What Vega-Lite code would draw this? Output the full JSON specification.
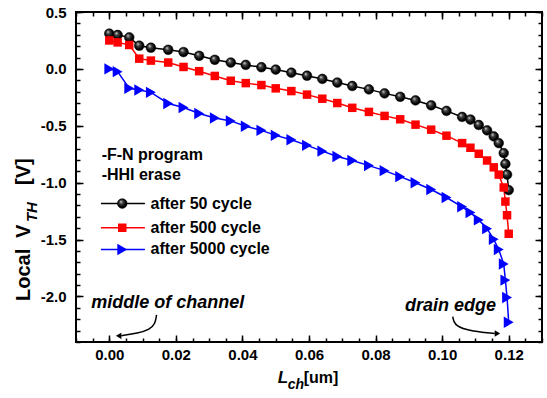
{
  "$schema": "https://vega.github.io/schema/vega-lite/v6.json",
  "width": 466,
  "height": 330,
  "autosize": {"type": "none"},
  "padding": {"left": 76, "top": 12, "right": 5, "bottom": 56},
  "background": "white",
  "config": {
    "view": {"stroke": "#000000", "strokeWidth": 2},
    "font": "Liberation Sans",
    "axis": {
      "labelFont": "Liberation Sans",
      "labelFontSize": 15,
      "labelFontWeight": "bold",
      "labelColor": "#000000",
      "tickColor": "#000000",
      "tickWidth": 1.5,
      "domain": false,
      "grid": false,
      "labelOverlap": false,
      "labelFlush": false,
      "labelBound": false
    }
  },
  "datasets": {
    "series": [
      {"s": "50", "role": "d", "L": 0, "V": 0.31},
      {"s": "50", "role": "d", "L": 0.0025, "V": 0.298},
      {"s": "50", "role": "d", "L": 0.006, "V": 0.277},
      {"s": "50", "role": "d", "L": 0.009, "V": 0.204},
      {"s": "50", "role": "d", "L": 0.0125, "V": 0.186},
      {"s": "50", "role": "d", "L": 0.0177, "V": 0.168},
      {"s": "50", "role": "d", "L": 0.0223, "V": 0.148},
      {"s": "50", "role": "d", "L": 0.027, "V": 0.115},
      {"s": "50", "role": "d", "L": 0.0317, "V": 0.08},
      {"s": "50", "role": "d", "L": 0.0365, "V": 0.056},
      {"s": "50", "role": "d", "L": 0.041, "V": 0.035},
      {"s": "50", "role": "d", "L": 0.0457, "V": 0.015},
      {"s": "50", "role": "d", "L": 0.05, "V": -0.006},
      {"s": "50", "role": "d", "L": 0.0547, "V": -0.033},
      {"s": "50", "role": "d", "L": 0.0594, "V": -0.06},
      {"s": "50", "role": "d", "L": 0.064, "V": -0.088},
      {"s": "50", "role": "d", "L": 0.0685, "V": -0.12},
      {"s": "50", "role": "d", "L": 0.073, "V": -0.15},
      {"s": "50", "role": "d", "L": 0.078, "V": -0.18},
      {"s": "50", "role": "d", "L": 0.0827, "V": -0.215},
      {"s": "50", "role": "d", "L": 0.0874, "V": -0.245},
      {"s": "50", "role": "d", "L": 0.092, "V": -0.277},
      {"s": "50", "role": "d", "L": 0.0967, "V": -0.32},
      {"s": "50", "role": "d", "L": 0.1013, "V": -0.369},
      {"s": "50", "role": "d", "L": 0.106, "V": -0.422},
      {"s": "50", "role": "d", "L": 0.1085, "V": -0.445},
      {"s": "50", "role": "d", "L": 0.111, "V": -0.493},
      {"s": "50", "role": "d", "L": 0.1135, "V": -0.54},
      {"s": "50", "role": "d", "L": 0.1155, "V": -0.593},
      {"s": "50", "role": "d", "L": 0.117, "V": -0.652},
      {"s": "50", "role": "d", "L": 0.1185, "V": -0.74},
      {"s": "50", "role": "d", "L": 0.119, "V": -0.835},
      {"s": "50", "role": "d", "L": 0.1195, "V": -0.929},
      {"s": "50", "role": "d", "L": 0.12, "V": -1.065},
      {"s": "500", "role": "d", "L": 0, "V": 0.25},
      {"s": "500", "role": "d", "L": 0.0025, "V": 0.233},
      {"s": "500", "role": "d", "L": 0.006, "V": 0.21},
      {"s": "500", "role": "d", "L": 0.009, "V": 0.09},
      {"s": "500", "role": "d", "L": 0.0125, "V": 0.073},
      {"s": "500", "role": "d", "L": 0.0177, "V": 0.056},
      {"s": "500", "role": "d", "L": 0.0223, "V": 0.017},
      {"s": "500", "role": "d", "L": 0.027, "V": -0.02},
      {"s": "500", "role": "d", "L": 0.0317, "V": -0.062},
      {"s": "500", "role": "d", "L": 0.0365, "V": -0.104},
      {"s": "500", "role": "d", "L": 0.041, "V": -0.125},
      {"s": "500", "role": "d", "L": 0.0457, "V": -0.142},
      {"s": "500", "role": "d", "L": 0.05, "V": -0.171},
      {"s": "500", "role": "d", "L": 0.0547, "V": -0.195},
      {"s": "500", "role": "d", "L": 0.0594, "V": -0.226},
      {"s": "500", "role": "d", "L": 0.064, "V": -0.262},
      {"s": "500", "role": "d", "L": 0.0685, "V": -0.3},
      {"s": "500", "role": "d", "L": 0.073, "V": -0.342},
      {"s": "500", "role": "d", "L": 0.078, "V": -0.378},
      {"s": "500", "role": "d", "L": 0.0827, "V": -0.413},
      {"s": "500", "role": "d", "L": 0.0874, "V": -0.443},
      {"s": "500", "role": "d", "L": 0.092, "V": -0.49},
      {"s": "500", "role": "d", "L": 0.0967, "V": -0.534},
      {"s": "500", "role": "d", "L": 0.1013, "V": -0.587},
      {"s": "500", "role": "d", "L": 0.106, "V": -0.652},
      {"s": "500", "role": "d", "L": 0.1085, "V": -0.693},
      {"s": "500", "role": "d", "L": 0.111, "V": -0.746},
      {"s": "500", "role": "d", "L": 0.1135, "V": -0.805},
      {"s": "500", "role": "d", "L": 0.1155, "V": -0.865},
      {"s": "500", "role": "d", "L": 0.117, "V": -0.929},
      {"s": "500", "role": "d", "L": 0.1185, "V": -1.042},
      {"s": "500", "role": "d", "L": 0.119, "V": -1.166},
      {"s": "500", "role": "d", "L": 0.1195, "V": -1.286},
      {"s": "500", "role": "d", "L": 0.12, "V": -1.449},
      {"s": "5000", "role": "d", "L": 0, "V": 0},
      {"s": "5000", "role": "d", "L": 0.0025, "V": -0.024},
      {"s": "5000", "role": "d", "L": 0.006, "V": -0.171},
      {"s": "5000", "role": "d", "L": 0.009, "V": -0.186},
      {"s": "5000", "role": "d", "L": 0.0125, "V": -0.206},
      {"s": "5000", "role": "d", "L": 0.0177, "V": -0.304},
      {"s": "5000", "role": "d", "L": 0.0223, "V": -0.339},
      {"s": "5000", "role": "d", "L": 0.027, "V": -0.392},
      {"s": "5000", "role": "d", "L": 0.0317, "V": -0.431},
      {"s": "5000", "role": "d", "L": 0.0365, "V": -0.457},
      {"s": "5000", "role": "d", "L": 0.041, "V": -0.504},
      {"s": "5000", "role": "d", "L": 0.0457, "V": -0.54},
      {"s": "5000", "role": "d", "L": 0.05, "V": -0.584},
      {"s": "5000", "role": "d", "L": 0.0547, "V": -0.622},
      {"s": "5000", "role": "d", "L": 0.0594, "V": -0.672},
      {"s": "5000", "role": "d", "L": 0.064, "V": -0.723},
      {"s": "5000", "role": "d", "L": 0.0685, "V": -0.77},
      {"s": "5000", "role": "d", "L": 0.073, "V": -0.805},
      {"s": "5000", "role": "d", "L": 0.078, "V": -0.85},
      {"s": "5000", "role": "d", "L": 0.0827, "V": -0.894},
      {"s": "5000", "role": "d", "L": 0.0874, "V": -0.947},
      {"s": "5000", "role": "d", "L": 0.092, "V": -1.0},
      {"s": "5000", "role": "d", "L": 0.0967, "V": -1.06},
      {"s": "5000", "role": "d", "L": 0.1013, "V": -1.13},
      {"s": "5000", "role": "d", "L": 0.106, "V": -1.212},
      {"s": "5000", "role": "d", "L": 0.1085, "V": -1.263},
      {"s": "5000", "role": "d", "L": 0.111, "V": -1.327},
      {"s": "5000", "role": "d", "L": 0.1135, "V": -1.404},
      {"s": "5000", "role": "d", "L": 0.1155, "V": -1.498},
      {"s": "5000", "role": "d", "L": 0.117, "V": -1.587},
      {"s": "5000", "role": "d", "L": 0.1185, "V": -1.714},
      {"s": "5000", "role": "d", "L": 0.119, "V": -1.856},
      {"s": "5000", "role": "d", "L": 0.1195, "V": -2.009},
      {"s": "5000", "role": "d", "L": 0.12, "V": -2.227},
      {"s": "50", "role": "legend", "L": 0.0039, "V": -1.183},
      {"s": "500", "role": "legend", "L": 0.0039, "V": -1.396},
      {"s": "5000", "role": "legend", "L": 0.0039, "V": -1.587}
    ],
    "legendLines": [
      {"s": "50", "L": -0.0025, "L2": 0.0107, "V": -1.183},
      {"s": "500", "L": -0.0025, "L2": 0.0107, "V": -1.396},
      {"s": "5000", "L": -0.0025, "L2": 0.0107, "V": -1.587}
    ],
    "arrows": [
      {"a": "m", "i": 0, "L": 0.0142, "V": -2.162},
      {"a": "m", "i": 1, "L": 0.0138, "V": -2.24},
      {"a": "m", "i": 2, "L": 0.0122, "V": -2.289},
      {"a": "m", "i": 3, "L": 0.0086, "V": -2.324},
      {"a": "m", "i": 4, "L": 0.0036, "V": -2.345},
      {"a": "d", "i": 0, "L": 0.1032, "V": -2.177},
      {"a": "d", "i": 1, "L": 0.1036, "V": -2.25},
      {"a": "d", "i": 2, "L": 0.1072, "V": -2.295},
      {"a": "d", "i": 3, "L": 0.1122, "V": -2.316},
      {"a": "d", "i": 4, "L": 0.1158, "V": -2.325}
    ],
    "heads": [
      {"a": "m", "L": 0.0028, "V": -2.346},
      {"a": "d", "L": 0.1166, "V": -2.325}
    ],
    "texts": [
      {"kind": "plain", "L": -0.0023, "V": -0.761, "t": "-F-N program"},
      {"kind": "plain", "L": -0.0023, "V": -0.932, "t": "-HHI erase"},
      {"kind": "plain", "L": 0.0124, "V": -1.183, "t": "after 50 cycle"},
      {"kind": "plain", "L": 0.0124, "V": -1.396, "t": "after 500 cycle"},
      {"kind": "plain", "L": 0.0124, "V": -1.587, "t": "after 5000 cycle"},
      {"kind": "plain", "L": 0.0584, "V": -2.716, "t": "[um]"},
      {"kind": "note", "L": 0.0176, "V": -2.059, "t": "middle of channel"},
      {"kind": "note", "L": 0.1025, "V": -2.088, "t": "drain edge"},
      {"kind": "xsym", "L": 0.0506, "V": -2.716, "t": "L"},
      {"kind": "xsub", "L": 0.0536, "V": -2.778, "t": "ch"},
      {"kind": "ylab", "L": -0.0256, "V": -2.04, "t": "Local"},
      {"kind": "ylab", "L": -0.0256, "V": -1.486, "t": "V"},
      {"kind": "ylab", "L": -0.0256, "V": -1.02, "t": "[V]"},
      {"kind": "ysub", "L": -0.0231, "V": -1.346, "t": "TH"}
    ]
  },
  "encoding": {
    "x": {"field": "L", "type": "quantitative", "scale": {"domain": [-0.01, 0.13], "nice": false, "zero": false}, "axis": null},
    "y": {"field": "V", "type": "quantitative", "scale": {"domain": [-2.4, 0.5], "nice": false, "zero": false}, "axis": null}
  },
  "layer": [
    {
      "data": {"name": "series"},
      "transform": [{"filter": "datum.role == 'd'"}],
      "mark": {"type": "line", "strokeWidth": 1.5},
      "encoding": {
        "x": {
          "field": "L", "type": "quantitative",
          "scale": {"domain": [-0.01, 0.13], "nice": false, "zero": false},
          "axis": {
            "orient": "bottom", "title": null, "offset": -7, "tickSize": 7, "labelPadding": 5,
            "values": [0, 0.02, 0.04, 0.06, 0.08, 0.1, 0.12],
            "format": ".2f"
          }
        },
        "y": {
          "field": "V", "type": "quantitative",
          "scale": {"domain": [-2.4, 0.5], "nice": false, "zero": false},
          "axis": {
            "orient": "left", "title": null, "offset": -7, "tickSize": 7, "labelPadding": 10,
            "values": [-2.0, -1.5, -1.0, -0.5, 0, 0.5],
            "labelExpr": "replace(format(datum.value, '.1f'), '\u2212', '-')"
          }
        },
        "color": {"field": "s", "type": "nominal", "scale": {"domain": ["50", "500", "5000"], "range": ["#000000", "#ff0000", "#0000ff"]}, "legend": null}
      }
    },
    {
      "data": {"name": "legendLines"},
      "mark": {"type": "rule", "strokeWidth": 1.5},
      "encoding": {
        "x2": {"field": "L2"},
        "color": {"field": "s", "type": "nominal", "scale": {"domain": ["50", "500", "5000"], "range": ["#000000", "#ff0000", "#0000ff"]}, "legend": null}
      }
    },
    {
      "data": {"name": "series"},
      "transform": [{"filter": "datum.s == '50'"}],
      "mark": {
        "type": "point", "shape": "circle", "size": 95, "opacity": 1, "strokeWidth": 0.5, "stroke": "#000000",
        "fill": {"gradient": "radial", "x1": 0.35, "y1": 0.3, "r1": 0, "x2": 0.5, "y2": 0.5, "r2": 0.6,
                 "stops": [{"offset": 0, "color": "#e8e8e8"}, {"offset": 0.3, "color": "#444444"}, {"offset": 0.7, "color": "#000000"}]}
      },
      "encoding": {
        "x": {
          "field": "L", "type": "quantitative",
          "scale": {"domain": [-0.01, 0.13], "nice": false, "zero": false},
          "axis": {
            "orient": "top", "title": null, "labels": false, "offset": -7, "tickSize": 7,
            "values": [0, 0.02, 0.04, 0.06, 0.08, 0.1, 0.12]
          }
        },
        "y": {
          "field": "V", "type": "quantitative",
          "scale": {"domain": [-2.4, 0.5], "nice": false, "zero": false},
          "axis": {
            "orient": "right", "title": null, "labels": false, "offset": -7, "tickSize": 7,
            "values": [-2.0, -1.5, -1.0, -0.5, 0, 0.5]
          }
        }
      }
    },
    {
      "data": {"name": "series"},
      "transform": [{"filter": "datum.s == '500'"}],
      "mark": {"type": "point", "shape": "square", "size": 72, "filled": true, "opacity": 1, "color": "#ff0000"},
      "encoding": {
        "x": {
          "field": "L", "type": "quantitative",
          "scale": {"domain": [-0.01, 0.13], "nice": false, "zero": false},
          "axis": {
            "orient": "bottom", "title": null, "labels": false, "offset": -4, "tickSize": 4,
            "values": [-0.01, -0.005, 0, 0.005, 0.01, 0.015, 0.02, 0.025, 0.03, 0.035, 0.04, 0.045, 0.05, 0.055, 0.06, 0.065, 0.07, 0.075, 0.08, 0.085, 0.09, 0.095, 0.1, 0.105, 0.11, 0.115, 0.12, 0.125, 0.13]
          }
        },
        "y": {
          "field": "V", "type": "quantitative",
          "scale": {"domain": [-2.4, 0.5], "nice": false, "zero": false},
          "axis": {
            "orient": "left", "title": null, "labels": false, "offset": -4, "tickSize": 4,
            "values": [-2.4, -2.3, -2.2, -2.1, -2.0, -1.9, -1.8, -1.7, -1.6, -1.5, -1.4, -1.3, -1.2, -1.1, -1.0, -0.9, -0.8, -0.7, -0.6, -0.5, -0.4, -0.3, -0.2, -0.1, 0, 0.1, 0.2, 0.3, 0.4, 0.5]
          }
        }
      }
    },
    {
      "data": {"name": "series"},
      "transform": [{"filter": "datum.s == '5000'"}],
      "mark": {"type": "point", "shape": "triangle-right", "size": 130, "filled": true, "opacity": 1, "color": "#0000ff"},
      "encoding": {
        "x": {
          "field": "L", "type": "quantitative",
          "scale": {"domain": [-0.01, 0.13], "nice": false, "zero": false},
          "axis": {
            "orient": "top", "title": null, "labels": false, "offset": -4, "tickSize": 4,
            "values": [-0.01, -0.005, 0, 0.005, 0.01, 0.015, 0.02, 0.025, 0.03, 0.035, 0.04, 0.045, 0.05, 0.055, 0.06, 0.065, 0.07, 0.075, 0.08, 0.085, 0.09, 0.095, 0.1, 0.105, 0.11, 0.115, 0.12, 0.125, 0.13]
          }
        },
        "y": {
          "field": "V", "type": "quantitative",
          "scale": {"domain": [-2.4, 0.5], "nice": false, "zero": false},
          "axis": {
            "orient": "right", "title": null, "labels": false, "offset": -4, "tickSize": 4,
            "values": [-2.4, -2.3, -2.2, -2.1, -2.0, -1.9, -1.8, -1.7, -1.6, -1.5, -1.4, -1.3, -1.2, -1.1, -1.0, -0.9, -0.8, -0.7, -0.6, -0.5, -0.4, -0.3, -0.2, -0.1, 0, 0.1, 0.2, 0.3, 0.4, 0.5]
          }
        }
      }
    },
    {
      "data": {"name": "arrows"},
      "mark": {"type": "line", "interpolate": "basis", "strokeWidth": 1.5, "color": "#000000"},
      "encoding": {
        "detail": {"field": "a"},
        "order": {"field": "i", "type": "quantitative"}
      }
    },
    {
      "data": {"name": "heads"},
      "transform": [{"filter": "datum.a == 'm'"}],
      "mark": {"type": "point", "shape": "triangle-left", "size": 40, "filled": true, "opacity": 1, "color": "#000000"}
    },
    {
      "data": {"name": "heads"},
      "transform": [{"filter": "datum.a == 'd'"}],
      "mark": {"type": "point", "shape": "triangle-right", "size": 40, "filled": true, "opacity": 1, "color": "#000000"}
    },
    {
      "data": {"name": "texts"},
      "transform": [{"filter": "datum.kind == 'plain'"}],
      "mark": {"type": "text", "align": "left", "baseline": "middle", "font": "Liberation Sans", "fontSize": 16, "fontWeight": "bold", "color": "#000000"},
      "encoding": {"text": {"field": "t"}}
    },
    {
      "data": {"name": "texts"},
      "transform": [{"filter": "datum.kind == 'note'"}],
      "mark": {"type": "text", "align": "center", "baseline": "middle", "font": "Liberation Sans", "fontSize": 18, "fontWeight": "bold", "fontStyle": "italic", "color": "#000000"},
      "encoding": {"text": {"field": "t"}}
    },
    {
      "data": {"name": "texts"},
      "transform": [{"filter": "datum.kind == 'xsym'"}],
      "mark": {"type": "text", "align": "left", "baseline": "middle", "font": "Liberation Sans", "fontSize": 17, "fontWeight": "bold", "fontStyle": "italic", "color": "#000000"},
      "encoding": {"text": {"field": "t"}}
    },
    {
      "data": {"name": "texts"},
      "transform": [{"filter": "datum.kind == 'xsub'"}],
      "mark": {"type": "text", "align": "left", "baseline": "middle", "font": "Liberation Sans", "fontSize": 14, "fontWeight": "bold", "fontStyle": "italic", "color": "#000000"},
      "encoding": {"text": {"field": "t"}}
    },
    {
      "data": {"name": "texts"},
      "transform": [{"filter": "datum.kind == 'ylab'"}],
      "mark": {"type": "text", "align": "left", "baseline": "middle", "angle": 270, "font": "Liberation Sans", "fontSize": 20, "fontWeight": "bold", "color": "#000000"},
      "encoding": {"text": {"field": "t"}}
    },
    {
      "data": {"name": "texts"},
      "transform": [{"filter": "datum.kind == 'ysub'"}],
      "mark": {"type": "text", "align": "left", "baseline": "middle", "angle": 270, "font": "Liberation Sans", "fontSize": 15, "fontWeight": "bold", "fontStyle": "italic", "color": "#000000"},
      "encoding": {"text": {"field": "t"}}
    }
  ],
  "resolve": {"axis": {"x": "independent", "y": "independent"}}
}
